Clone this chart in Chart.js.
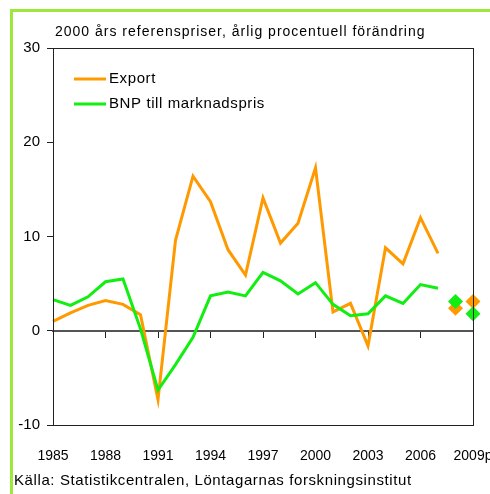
<!DOCTYPE html>
<html>
<head>
<meta charset="utf-8">
<script src="https://cdn.jsdelivr.net/npm/chart.js@4/dist/chart.umd.min.js"></script>
<style>
  body { margin: 0; background: #fff; }
  #wrap { width: 490px; height: 494px; }
</style>
</head>
<body>
<div id="wrap"><canvas id="myChart" width="490" height="494"></canvas></div>
<script>
var years = ['1985','1986','1987','1988','1989','1990','1991','1992','1993','1994','1995','1996',
  '1997','1998','1999','2000','2001','2002','2003','2004','2005','2006','2007','2008','2009p'];
var exportData = [1.0, 1.9, 2.7, 3.2, 2.8, 1.7, -7.3, 9.6, 16.4, 13.7, 8.6, 5.9,
  14.1, 9.3, 11.4, 17.3, 2.0, 2.9, -1.6, 8.8, 7.1, 12.0, 8.2, null, null];
var bnpData = [3.3, 2.7, 3.6, 5.2, 5.5, 0.2, -6.3, -3.6, -0.7, 3.7, 4.1, 3.7,
  6.2, 5.3, 3.9, 5.1, 2.8, 1.6, 1.8, 3.7, 2.9, 4.9, 4.5, null, null];
var exportForecast = [null, null, null, null, null, null, null, null, null, null, null, null,
  null, null, null, null, null, null, null, null, null, null, null, 2.4, 3.1];
var bnpForecast = [null, null, null, null, null, null, null, null, null, null, null, null,
  null, null, null, null, null, null, null, null, null, null, null, 3.1, 1.8];
var yTicks = [-10, 0, 10, 20, 30];

var titleText = '2000 års referenspriser, årlig procentuell förändring';
var sourceText = 'Källa: Statistikcentralen, Löntagarnas forskningsinstitut';
var orange = '#ff9900';
var green = '#11ee11';
var font = '"Liberation Sans", Arial, sans-serif';

// frame, title, plot box, legend and source line
var extras = {
  id: 'extras',
  beforeDraw: function (chart) {
    var c = chart.ctx;
    c.save();
    c.fillStyle = '#fff';
    c.fillRect(0, 0, chart.width, chart.height);
    c.fillStyle = '#9de83a';
    c.fillRect(10, 9, 3, chart.height);
    c.fillRect(10, 9, chart.width, 3);
    c.restore();
  },
  afterDraw: function (chart) {
    var c = chart.ctx, a = chart.chartArea;
    c.save();
    c.strokeStyle = '#222';
    c.lineWidth = 1;
    c.strokeRect(Math.round(a.left) + 0.5, Math.round(a.top) + 0.5,
      Math.round(a.right - a.left), Math.round(a.bottom - a.top));
    c.fillStyle = '#000';
    c.textBaseline = 'middle';
    c.textAlign = 'left';
    c.font = '14px ' + font;
    c.letterSpacing = '1px';
    c.fillText(titleText, 55, 32);
    c.font = '15px ' + font;
    c.letterSpacing = '0.6px';
    c.fillText(sourceText, 14, 481);
    // legend
    var items = [chart.data.datasets[0], chart.data.datasets[1]];
    items.forEach(function (ds, i) {
      var y = a.top + 31 + i * 25;
      c.strokeStyle = ds.borderColor;
      c.lineWidth = 3;
      c.beginPath();
      c.moveTo(a.left + 21, y);
      c.lineTo(a.left + 53, y);
      c.stroke();
      c.fillStyle = '#000';
      c.fillText(ds.label, a.left + 56, y);
    });
    c.restore();
  }
};

var ctx = document.getElementById('myChart').getContext('2d');
var myChart = new Chart(ctx, {
  type: 'line',
  data: {
    labels: years,
    datasets: [{
      label: 'Export',
      data: exportData,
      borderColor: orange,
      borderWidth: 3,
      pointRadius: 0,
      order: 3
    }, {
      label: 'BNP till marknadspris',
      data: bnpData,
      borderColor: green,
      borderWidth: 3,
      pointRadius: 0,
      order: 2
    }, {
      label: 'Export prognos',
      data: exportForecast,
      showLine: false,
      pointStyle: 'rectRot',
      pointRadius: 7.5,
      pointBorderWidth: 0,
      pointBackgroundColor: orange,
      borderColor: orange,
      order: 1
    }, {
      label: 'BNP prognos',
      data: bnpForecast,
      showLine: false,
      pointStyle: 'rectRot',
      pointRadius: 7.5,
      pointBorderWidth: 0,
      pointBackgroundColor: green,
      borderColor: green,
      order: 0
    }]
  },
  options: {
    responsive: false,
    animation: false,
    layout: { padding: { left: 12, top: 48, right: 17, bottom: 0 } },
    plugins: {
      legend: { display: false },
      title: { display: false },
      tooltip: { enabled: false }
    },
    scales: {
      x: {
        type: 'category',
        position: 'bottom',
        grid: { display: false },
        border: { display: false },
        ticks: {
          autoSkip: false,
          maxRotation: 0,
          padding: 15,
          color: '#000',
          font: { family: font, size: 14 },
          callback: function (val, i) {
            return i % 3 === 0 ? this.getLabelForValue(val) : '';
          }
        },
        afterFit: function (s) {
          s.paddingLeft = 0;
          s.paddingRight = 0;
          s.height = 69;
        }
      },
      zero: {
        type: 'category',
        axis: 'x',
        position: { y: 0 },
        grid: {
          drawOnChartArea: false,
          tickLength: 6,
          tickWidth: 1,
          tickColor: function (c) { return c.index % 3 === 0 ? '#222' : 'rgba(0,0,0,0)'; }
        },
        border: { color: '#555', width: 2 },
        ticks: { display: false, autoSkip: false }
      },
      y: {
        min: -10,
        max: 30,
        afterBuildTicks: function (s) {
          s.ticks = yTicks.map(function (v) { return { value: v }; });
        },
        grid: { drawOnChartArea: false, tickLength: 6, tickColor: '#222' },
        border: { color: '#222', width: 1 },
        ticks: {
          padding: 7,
          color: '#000',
          font: { family: font, size: 15 }
        },
        afterFit: function (s) { s.width = 41; }
      }
    }
  },
  plugins: [extras]
});
</script>
</body>
</html>
